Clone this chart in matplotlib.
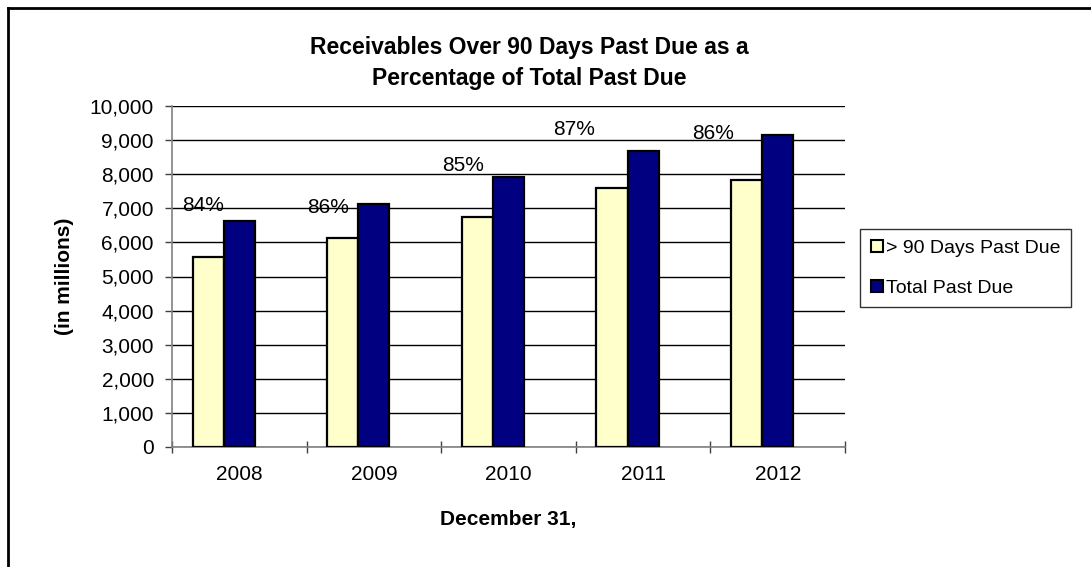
import matplotlib
matplotlib.use('Agg')
import matplotlib.pyplot as plt
from matplotlib.lines import Line2D
from matplotlib.ticker import FuncFormatter
import numpy as np

plt.rcParams['font.family'] = ['Liberation Sans', 'DejaVu Sans']

years = ['2008', '2009', '2010', '2011', '2012']
over_90 = [5565, 6130, 6734, 7582, 7836]
total_past_due = [6637, 7126, 7904, 8684, 9143]

# hand-placed spots for the percentage labels (x in category units, y in millions)
label_x = [-0.27, 0.66, 1.66, 2.49, 3.52]
label_y = [6930, 6863, 8099, 9143, 9026]

light = '#FFFFCC'
navy = '#000080'

fig = plt.figure(figsize=(10.91, 5.67), dpi=100)
ax = fig.add_axes([172/1091, 1 - 447/567, (845-172)/1091, (447-106)/567])

x = np.arange(len(years))
w = 0.231
ax.bar(x - w, over_90, w, color=light, edgecolor='black', linewidth=1.6, zorder=3)
ax.bar(x, total_past_due, w, color=navy, edgecolor='black', linewidth=1.6, zorder=3)

for i in range(len(years)):
    pct = round(over_90[i] / total_past_due[i] * 100)
    ax.text(label_x[i], label_y[i], '%d%%' % pct, ha='center', va='baseline', fontsize=15, zorder=4)

ax.set_xlim(-0.5, len(years) - 0.5)
ax.set_ylim(0, 10000)
ax.set_yticks(range(0, 10001, 1000))
ax.yaxis.set_major_formatter(FuncFormatter(lambda v, p: '{:,.0f}'.format(v)))
ax.grid(axis='y', color='black', linewidth=1.0, zorder=1)
ax.set_axisbelow(True)

ax.set_xticks(x)
ax.set_xticklabels(years)
ax.set_xticks(np.arange(-0.5, len(years)), minor=True)
ax.tick_params(axis='x', which='major', length=0, pad=13, labelsize=15)
ax.tick_params(axis='x', which='minor', length=9, direction='inout', color='#404040', width=1)
ax.tick_params(axis='y', length=5, width=1, color='#404040', pad=8, labelsize=15)

for s in ['top', 'right']:
    ax.spines[s].set_visible(False)
for s in ['left', 'bottom']:
    ax.spines[s].set_color('#808080')
    ax.spines[s].set_linewidth(1.2)

ax.set_ylabel('(in millions)', fontsize=15, fontweight='bold', labelpad=11)
ax.set_xlabel('December 31,', fontsize=15, fontweight='bold', labelpad=19)

fig.text(529/1091, 1 - 63/567, 'Receivables Over 90 Days Past Due as a\nPercentage of Total Past Due',
         ha='center', va='center', fontsize=16.5, fontweight='bold', linespacing=1.4)

handles = [
    Line2D([], [], marker='s', linestyle='none', markersize=9, markerfacecolor=light,
           markeredgecolor='black', markeredgewidth=1.5),
    Line2D([], [], marker='s', linestyle='none', markersize=9, markerfacecolor=navy,
           markeredgecolor='black', markeredgewidth=1.5),
]
leg = fig.legend(handles, ['> 90 Days Past Due', 'Total Past Due'], loc='center left',
                 bbox_to_anchor=(860/1091, 1 - 268/567), fontsize=14, frameon=True,
                 fancybox=False, edgecolor='black', handlelength=0.6, handletextpad=0.2,
                 labelspacing=1.15, borderpad=0.55, borderaxespad=0)
leg.get_frame().set_linewidth(1.0)

# outer chart border (left and top edges fall inside the canvas)
fig.add_artist(Line2D([8/1091, 8/1091], [0, 1 - 8/567], color='black', linewidth=2))
fig.add_artist(Line2D([8/1091, 1], [1 - 8/567, 1 - 8/567], color='black', linewidth=2))

fig.savefig('out.png', dpi=100)
